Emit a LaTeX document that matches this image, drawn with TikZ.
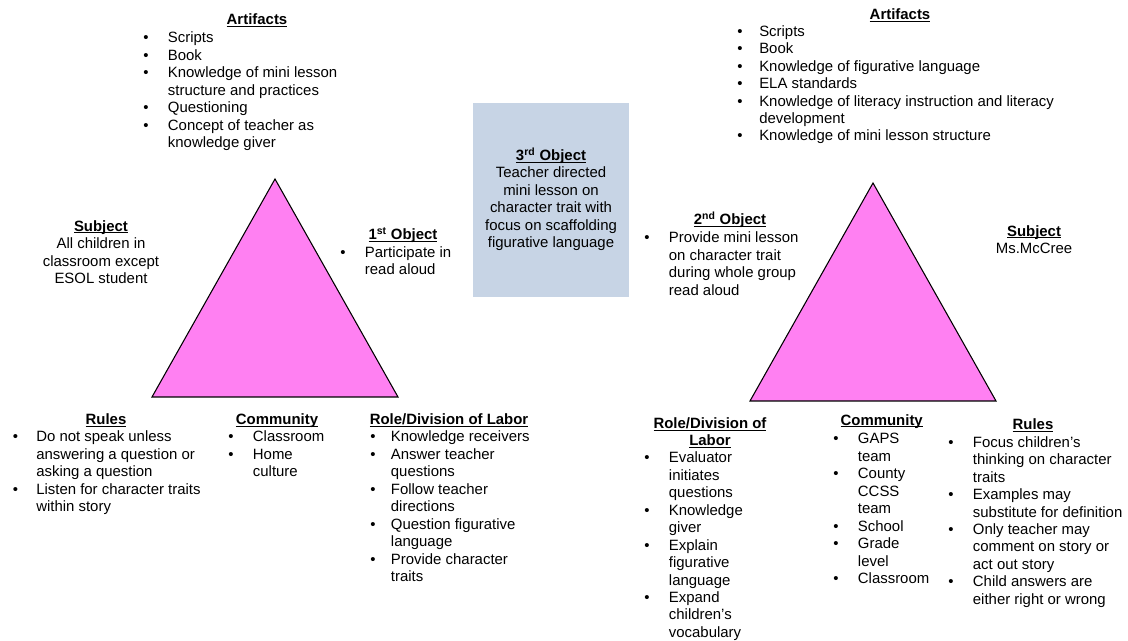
\documentclass[tikz,border=0pt]{standalone}
\usepackage{fontspec}
\setmainfont{Liberation Sans}

\definecolor{trifill}{RGB}{255,128,242}
\definecolor{objbox}{RGB}{199,212,229}

\newcommand\hd[1]{\setbox0\hbox{\bfseries #1}\rlap{\rule[-1.6pt]{\wd0}{0.7pt}}\box0}
\newcommand\blist[2][18.5pt]{\begin{tabular}[t]{@{}p{#1}@{}l@{}}#2\end{tabular}}
\newcommand\cblock[1]{\begin{tabular}[t]{@{}c@{}}#1\end{tabular}}
\newcommand\blt{\textbullet}

\tikzset{
  txt/.style={inner sep=0pt, font=\fontsize{11.2}{13.1}\selectfont},
  head/.style={txt, anchor=base},
  items/.style={txt, anchor=base west},
  tri/.style={draw=black, line width=0.8pt, fill=trifill, line join=miter}
}

\begin{document}
\begin{tikzpicture}[x=0.75pt,y=-0.75pt]
\useasboundingbox (0,0) rectangle (1128,641);

\draw[tri] (275,179) -- (152,397) -- (398,397) -- cycle;
\draw[tri] (873,183) -- (750,401) -- (996,401) -- cycle;

\fill[objbox] (473,103) rectangle (629,297);

% left system
\node(art1)[head] at (257,24.5) {\hd{Artifacts}};
\node(art1list)[items] at (143,42.8) {\blist{\blt & Scripts\\ \blt & Book\\ \blt & Knowledge of mini lesson\\ & structure and practices\\ \blt & Questioning\\ \blt & Concept of teacher as\\ & knowledge giver}};

\node(subj1)[head] at (101,231.2) {\cblock{\hd{Subject}\\ All children in\\ classroom except\\ ESOL student}};

\node(obj1)[head] at (403,239.5) {\hd{1\textsuperscript{st} Object}};
\node(obj1list)[items] at (340,257.2) {\blist{\blt & Participate in\\ & read aloud}};

\node(rules1)[head] at (106,424.5) {\hd{Rules}};
\node(rules1list)[items] at (12.7,441.8) {\blist[17.5pt]{\blt & Do not speak unless\\ & answering a question or\\ & asking a question\\ \blt & Listen for character traits\\ & within story}};

\node(comm1)[head] at (277,424.5) {\hd{Community}};
\node(comm1list)[items] at (228,441.8) {\blist{\blt & Classroom\\ \blt & Home\\ & culture}};

\node(role1)[head] at (449,424.5) {\hd{Role/Division of Labor}};
\node(role1list)[items] at (370,441.8) {\blist[15.5pt]{\blt & Knowledge receivers\\ \blt & Answer teacher\\ & questions\\ \blt & Follow teacher\\ & directions\\ \blt & Question figurative\\ & language\\ \blt & Provide character\\ & traits}};

% object in the middle
\node(obj3)[head] at (551,160.5) {\cblock{\hd{3\textsuperscript{rd} Object}\\ Teacher directed\\ mini lesson on\\ character trait with\\ focus on scaffolding\\ figurative language}};

% right system
\node(art2)[head] at (900,19.5) {\hd{Artifacts}};
\node(art2list)[items] at (737,36.2) {\blist[16.5pt]{\blt & Scripts\\ \blt & Book\\ \blt & Knowledge of figurative language\\ \blt & ELA standards\\ \blt & Knowledge of literacy instruction and literacy\\ & development\\ \blt & Knowledge of mini lesson structure}};

\node(obj2)[head] at (730,224.5) {\hd{2\textsuperscript{nd} Object}};
\node(obj2list)[items] at (644,242.8) {\blist{\blt & Provide mini lesson\\ & on character trait\\ & during whole group\\ & read aloud}};

\node(subj2)[head] at (1034,236.2) {\cblock{\hd{Subject}\\ Ms.McCree}};

\node(role2)[head] at (710,428.5) {\cblock{\hd{Role/Division of}\\ \hd{Labor}}};
\node(role2list)[items] at (644,462.8) {\blist{\blt & Evaluator\\ & initiates\\ & questions\\ \blt & Knowledge\\ & giver\\ \blt & Explain\\ & figurative\\ & language\\ \blt & Expand\\ & children's\\ & vocabulary}};

\node(comm2)[head] at (881.7,425.2) {\hd{Community}};
\node(comm2list)[items] at (833,443.8) {\blist{\blt & GAPS\\ & team\\ \blt & County\\ & CCSS\\ & team\\ \blt & School\\ \blt & Grade\\ & level\\ \blt & Classroom}};

\node(rules2)[head] at (1033,429.5) {\hd{Rules}};
\node(rules2list)[items] at (948,447.2) {\blist{\blt & Focus children's\\ & thinking on character\\ & traits\\ \blt & Examples may\\ & substitute for definition\\ \blt & Only teacher may\\ & comment on story or\\ & act out story\\ \blt & Child answers are\\ & either right or wrong}};

\end{tikzpicture}
\end{document}
